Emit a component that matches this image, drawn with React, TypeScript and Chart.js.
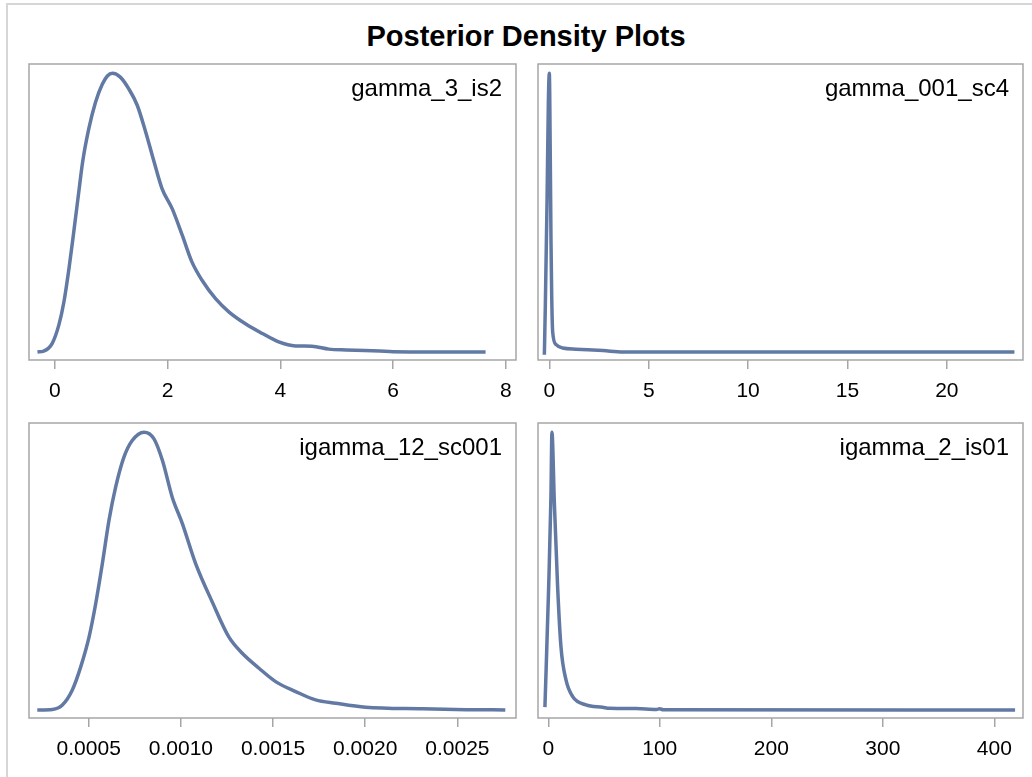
import React, { useEffect, useRef } from 'react';
import { Chart, registerables } from 'chart.js';

Chart.register(...registerables);

// ---------------- DATA ----------------
const TITLE = 'Posterior Density Plots';

// gamma_3_is2
const g3X = [-0.31, -0.2, -0.05, 0.07, 0.16, 0.25, 0.34, 0.43, 0.49, 0.6, 0.72, 0.84, 0.93, 1.02, 1.16, 1.31, 1.46, 1.61, 1.76, 1.9, 2.08, 2.26, 2.43, 2.61, 2.85, 3.09, 3.38, 3.68, 3.97, 4.27, 4.56, 4.86, 5.17, 5.76, 6.0, 7.0, 7.64];
const g3Y = [0, 0.003, 0.03, 0.097, 0.18, 0.3, 0.44, 0.585, 0.68, 0.8, 0.896, 0.96, 0.99, 1.0, 0.986, 0.944, 0.885, 0.789, 0.681, 0.586, 0.514, 0.418, 0.323, 0.257, 0.191, 0.143, 0.101, 0.066, 0.036, 0.0215, 0.0204, 0.01, 0.007, 0.003, 0.001, 0, 0];
const g3Ticks = [0, 2, 4, 6, 8];
const g3TickLabels = ['0', '2', '4', '6', '8'];

// gamma_001_sc4
const g001X = [-0.25, -0.2, -0.115, -0.05, 0, 0.05, 0.085, 0.12, 0.17, 0.34, 0.67, 1.34, 2.7, 3.7, 23.4];
const g001Y = [-0.01, 0.17, 0.54, 0.89, 1.0, 0.68, 0.39, 0.2, 0.07, 0.026, 0.014, 0.01, 0.005, 0, 0];
const g001Ticks = [0, 5, 10, 15, 20];
const g001TickLabels = ['0', '5', '10', '15', '20'];

// igamma_12_sc001
const ig12X = [0.000221, 0.000303, 0.000357, 0.000411, 0.000457, 0.000502, 0.000538, 0.000574, 0.00061, 0.000646, 0.000691, 0.000736, 0.0008, 0.000854, 0.0009, 0.000953, 0.001008, 0.00108, 0.00117, 0.00126, 0.001333, 0.001424, 0.001514, 0.001623, 0.001731, 0.00184, 0.002002, 0.00231, 0.00255, 0.00276];
const ig12Y = [0, 0.002, 0.018, 0.072, 0.156, 0.263, 0.383, 0.527, 0.683, 0.802, 0.91, 0.97, 1.0, 0.976, 0.898, 0.766, 0.671, 0.527, 0.389, 0.263, 0.204, 0.15, 0.102, 0.066, 0.036, 0.024, 0.0097, 0.004, 0.001, 0];
const ig12Ticks = [0.0005, 0.001, 0.0015, 0.002, 0.0025];
const ig12TickLabels = ['0.0005', '0.0010', '0.0015', '0.0020', '0.0025'];

// igamma_2_is01
const ig2X = [-3, 0.36, 2.4, 3.3, 5.4, 8.4, 11.4, 15.9, 21.9, 33.8, 48.8, 55, 78.7, 97, 100, 103, 418.6];
const ig2Y = [0.01, 0.443, 0.766, 1.0, 0.754, 0.443, 0.227, 0.108, 0.048, 0.018, 0.0097, 0.006, 0.005, 0.002, 0.004, 0.001, 0];
const ig2Ticks = [0, 100, 200, 300, 400];
const ig2TickLabels = ['0', '100', '200', '300', '400'];

// ---------------- STYLE / LAYOUT ----------------
const LINE_COLOR = '#6279A4';
const FRAME_COLOR = '#A6A6A6';
const FONT = '"Liberation Sans", Arial, sans-serif';
const PAD_L = 20;
const PAD_R = 9;
const PAD_T = 6;
const AXIS_H = 48;

type PanelCfg = {
  name: string;
  xs: number[];
  ys: number[];
  ticks: number[];
  tickLabels: string[];
  xMin: number;
  xMax: number;
  area: { left: number; top: number; right: number; bottom: number };
};

const PANELS: PanelCfg[] = [
  { name: 'gamma_3_is2', xs: g3X, ys: g3Y, ticks: g3Ticks, tickLabels: g3TickLabels, xMin: -0.46, xMax: 8.18, area: { left: 29, top: 64, right: 516, bottom: 360 } },
  { name: 'gamma_001_sc4', xs: g001X, ys: g001Y, ticks: g001Ticks, tickLabels: g001TickLabels, xMin: -0.57, xMax: 23.83, area: { left: 538, top: 64, right: 1023, bottom: 360 } },
  { name: 'igamma_12_sc001', xs: ig12X, ys: ig12Y, ticks: ig12Ticks, tickLabels: ig12TickLabels, xMin: 0.000176, xMax: 0.002818, area: { left: 29, top: 423, right: 516, bottom: 718 } },
  { name: 'igamma_2_is01', xs: ig2X, ys: ig2Y, ticks: ig2Ticks, tickLabels: ig2TickLabels, xMin: -9.2, xMax: 425.7, area: { left: 538, top: 423, right: 1023, bottom: 718 } },
];

const framePlugin = {
  id: 'frameBox',
  beforeDatasetsDraw(chart: any) {
    const { ctx, chartArea } = chart;
    const { left, top, right, bottom } = chartArea;
    ctx.save();
    ctx.strokeStyle = FRAME_COLOR;
    ctx.lineWidth = 1.5;
    ctx.strokeRect(left, top, right - left, bottom - top);
    ctx.restore();
  },
};

const insetPlugin = {
  id: 'insetLabel',
  afterDraw(chart: any, _args: any, opts: any) {
    if (!opts || !opts.text) return;
    const { ctx, chartArea } = chart;
    ctx.save();
    ctx.font = `24px ${FONT}`;
    ctx.fillStyle = '#000';
    ctx.textAlign = 'right';
    ctx.textBaseline = 'alphabetic';
    ctx.fillText(opts.text, chartArea.right - 14, chartArea.top + 32);
    ctx.restore();
  },
};

function Panel({ cfg }: { cfg: PanelCfg }) {
  const ref = useRef<HTMLCanvasElement | null>(null);
  const { area } = cfg;
  const width = area.right - area.left + PAD_L + PAD_R;
  const height = area.bottom - area.top + PAD_T + AXIS_H;

  useEffect(() => {
    if (!ref.current) return;
    const data = cfg.xs.map((x, i) => ({ x, y: cfg.ys[i] }));
    const chart = new Chart(ref.current, {
      type: 'line',
      data: {
        datasets: [
          {
            data,
            borderColor: LINE_COLOR,
            borderWidth: 3.5,
            pointRadius: 0,
            fill: false,
            cubicInterpolationMode: 'monotone',
          },
        ],
      },
      options: {
        responsive: false,
        animation: false,
        devicePixelRatio: 1,
        layout: { padding: { left: PAD_L, right: PAD_R, top: PAD_T, bottom: 0 } },
        plugins: {
          legend: { display: false },
          tooltip: { enabled: false },
          insetLabel: { text: cfg.name },
        } as any,
        scales: {
          x: {
            type: 'linear',
            min: cfg.xMin,
            max: cfg.xMax,
            border: { display: false },
            grid: {
              display: true,
              drawOnChartArea: false,
              drawTicks: true,
              tickLength: 9,
              color: FRAME_COLOR,
              lineWidth: 1.5,
            },
            ticks: {
              padding: 10,
              color: '#000',
              font: { family: FONT, size: 21 },
              maxRotation: 0,
              autoSkip: false,
              callback: (_v: any, i: number) => cfg.tickLabels[i],
            },
            afterBuildTicks: (scale: any) => {
              scale.ticks = cfg.ticks.map((value) => ({ value }));
            },
            afterFit: (scale: any) => {
              scale.height = AXIS_H;
            },
          },
          y: {
            type: 'linear',
            display: false,
            min: -0.029,
            max: 1.033,
          },
        },
      },
      plugins: [framePlugin, insetPlugin],
    } as any);
    return () => chart.destroy();
  }, [cfg]);

  return (
    <canvas
      ref={ref}
      width={width}
      height={height}
      style={{
        position: 'absolute',
        left: area.left - PAD_L,
        top: area.top - PAD_T,
        width,
        height,
        display: 'block',
      }}
    />
  );
}

export default function App() {
  return (
    <div
      style={{
        position: 'absolute',
        left: 0,
        top: 0,
        width: 1032,
        height: 777,
        overflow: 'hidden',
        background: '#fff',
      }}
    >
      <div
        style={{
          position: 'absolute',
          left: 6,
          top: 3,
          width: 1100,
          height: 900,
          borderLeft: '2px solid #D6D6D6',
          borderTop: '2px solid #D6D6D6',
        }}
      />
      <div
        style={{
          position: 'absolute',
          left: 29,
          width: 994,
          top: 22,
          textAlign: 'center',
          fontFamily: FONT,
          fontWeight: 'bold',
          fontSize: 29,
          lineHeight: '29px',
          color: '#000',
          whiteSpace: 'nowrap',
        }}
      >
        {TITLE}
      </div>
      {PANELS.map((p) => (
        <Panel key={p.name} cfg={p} />
      ))}
    </div>
  );
}
